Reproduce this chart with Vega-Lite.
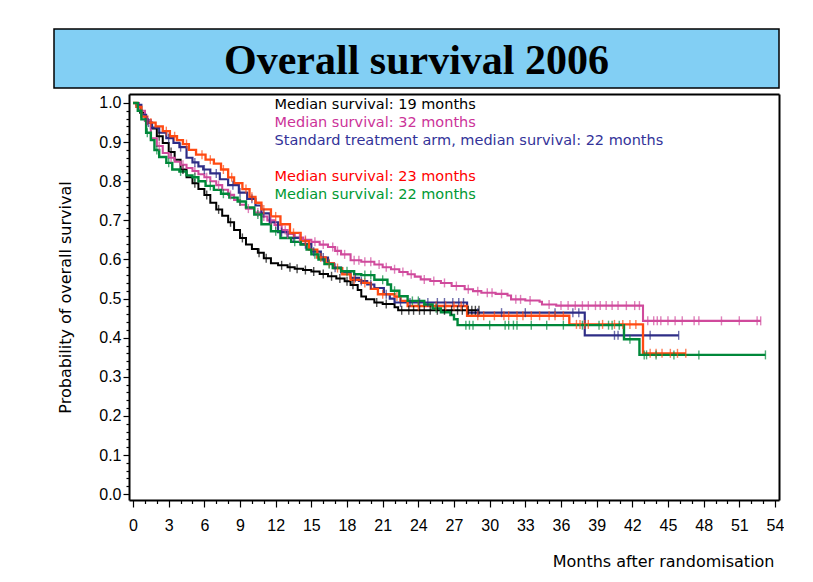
{
  "$schema": "https://vega.github.io/schema/vega-lite/v6.json",
  "padding": {"left": 53, "top": 28, "right": 0, "bottom": 0},
  "background": "white",
  "spacing": 5,
  "resolve": {"scale": {"color": "independent"}, "legend": {"color": "independent"}},
  "config": {
    "font": "Liberation Sans",
    "axis": {"domainColor": "#000", "tickColor": "#000", "labelColor": "#000", "titleColor": "#000", "grid": false}
  },
  "datasets": {
    "km": [
      {"g":"B","m":0,"s":1},{"g":"B","m":0.3,"s":0.99},{"g":"B","m":0.6,"s":0.975},{"g":"B","m":1.0,"s":0.955},{"g":"B","m":1.5,"s":0.935},{"g":"B","m":2.0,"s":0.915},{"g":"B","m":2.5,"s":0.898},{"g":"B","m":3.0,"s":0.875},{"g":"B","m":3.5,"s":0.855},{"g":"B","m":4.0,"s":0.83},{"g":"B","m":4.5,"s":0.81},{"g":"B","m":5.0,"s":0.795},{"g":"B","m":5.5,"s":0.78},{"g":"B","m":6.0,"s":0.765},{"g":"B","m":6.5,"s":0.745},{"g":"B","m":7.0,"s":0.728},{"g":"B","m":7.5,"s":0.712},{"g":"B","m":8.0,"s":0.695},{"g":"B","m":8.5,"s":0.675},{"g":"B","m":9.0,"s":0.655},{"g":"B","m":9.5,"s":0.638},{"g":"B","m":10.0,"s":0.627},{"g":"B","m":10.5,"s":0.617},{"g":"B","m":11.0,"s":0.603},{"g":"B","m":11.6,"s":0.59},{"g":"B","m":12.2,"s":0.585},{"g":"B","m":13.0,"s":0.58},{"g":"B","m":13.6,"s":0.576},{"g":"B","m":14.3,"s":0.573},{"g":"B","m":15.0,"s":0.569},{"g":"B","m":15.7,"s":0.563},{"g":"B","m":16.4,"s":0.557},{"g":"B","m":17.1,"s":0.551},{"g":"B","m":17.8,"s":0.544},{"g":"B","m":18.3,"s":0.535},{"g":"B","m":18.9,"s":0.522},{"g":"B","m":19.2,"s":0.505},{"g":"B","m":19.6,"s":0.498},{"g":"B","m":20.3,"s":0.49},{"g":"B","m":21.0,"s":0.486},{"g":"B","m":22.0,"s":0.478},{"g":"B","m":22.3,"s":0.47},{"g":"B","m":29.1,"s":0.47},

      {"g":"M","m":0,"s":1},{"g":"M","m":0.5,"s":0.98},{"g":"M","m":1.0,"s":0.955},{"g":"M","m":1.5,"s":0.91},{"g":"M","m":2.0,"s":0.89},{"g":"M","m":2.5,"s":0.872},{"g":"M","m":3.0,"s":0.86},{"g":"M","m":3.5,"s":0.85},{"g":"M","m":4.0,"s":0.842},{"g":"M","m":4.5,"s":0.834},{"g":"M","m":5.0,"s":0.826},{"g":"M","m":5.5,"s":0.818},{"g":"M","m":6.0,"s":0.81},{"g":"M","m":6.5,"s":0.8},{"g":"M","m":7.0,"s":0.79},{"g":"M","m":7.5,"s":0.778},{"g":"M","m":8.0,"s":0.765},{"g":"M","m":8.5,"s":0.752},{"g":"M","m":9.0,"s":0.74},{"g":"M","m":9.5,"s":0.73},{"g":"M","m":10.2,"s":0.72},{"g":"M","m":10.8,"s":0.71},{"g":"M","m":11.3,"s":0.7},{"g":"M","m":11.9,"s":0.688},{"g":"M","m":12.5,"s":0.675},{"g":"M","m":13.0,"s":0.665},{"g":"M","m":13.6,"s":0.656},{"g":"M","m":14.3,"s":0.65},{"g":"M","m":15.0,"s":0.645},{"g":"M","m":15.7,"s":0.638},{"g":"M","m":16.4,"s":0.632},{"g":"M","m":17.0,"s":0.622},{"g":"M","m":17.5,"s":0.613},{"g":"M","m":18.3,"s":0.598},{"g":"M","m":19.2,"s":0.594},{"g":"M","m":20.3,"s":0.587},{"g":"M","m":21.0,"s":0.58},{"g":"M","m":21.7,"s":0.575},{"g":"M","m":22.4,"s":0.568},{"g":"M","m":23.1,"s":0.562},{"g":"M","m":23.7,"s":0.556},{"g":"M","m":24.2,"s":0.549},{"g":"M","m":25.0,"s":0.545},{"g":"M","m":25.9,"s":0.54},{"g":"M","m":26.8,"s":0.532},{"g":"M","m":27.9,"s":0.524},{"g":"M","m":28.6,"s":0.519},{"g":"M","m":29.3,"s":0.515},{"g":"M","m":30.5,"s":0.512},{"g":"M","m":31.5,"s":0.508},{"g":"M","m":31.8,"s":0.498},{"g":"M","m":33.0,"s":0.495},{"g":"M","m":34.2,"s":0.492},{"g":"M","m":34.4,"s":0.485},{"g":"M","m":35.6,"s":0.482},{"g":"M","m":42.9,"s":0.443},{"g":"M","m":52.8,"s":0.443},

      {"g":"N","m":0,"s":1},{"g":"N","m":0.3,"s":0.995},{"g":"N","m":0.7,"s":0.97},{"g":"N","m":1.1,"s":0.95},{"g":"N","m":1.6,"s":0.937},{"g":"N","m":2.2,"s":0.924},{"g":"N","m":2.8,"s":0.91},{"g":"N","m":3.4,"s":0.898},{"g":"N","m":3.9,"s":0.887},{"g":"N","m":4.5,"s":0.86},{"g":"N","m":5.0,"s":0.848},{"g":"N","m":5.5,"s":0.838},{"g":"N","m":5.9,"s":0.83},{"g":"N","m":6.5,"s":0.82},{"g":"N","m":7.3,"s":0.805},{"g":"N","m":8.0,"s":0.79},{"g":"N","m":8.9,"s":0.771},{"g":"N","m":9.6,"s":0.755},{"g":"N","m":10.3,"s":0.738},{"g":"N","m":10.8,"s":0.718},{"g":"N","m":11.5,"s":0.695},{"g":"N","m":12.2,"s":0.67},{"g":"N","m":13.0,"s":0.655},{"g":"N","m":14.1,"s":0.639},{"g":"N","m":15.0,"s":0.62},{"g":"N","m":15.8,"s":0.605},{"g":"N","m":16.4,"s":0.59},{"g":"N","m":16.9,"s":0.579},{"g":"N","m":17.5,"s":0.567},{"g":"N","m":18.3,"s":0.553},{"g":"N","m":19.0,"s":0.545},{"g":"N","m":19.7,"s":0.536},{"g":"N","m":20.3,"s":0.527},{"g":"N","m":21.1,"s":0.511},{"g":"N","m":21.6,"s":0.5},{"g":"N","m":22.0,"s":0.49},{"g":"N","m":28.1,"s":0.464},{"g":"N","m":38.0,"s":0.406},{"g":"N","m":45.9,"s":0.406},

      {"g":"R","m":0,"s":1},{"g":"R","m":0.3,"s":0.99},{"g":"R","m":0.7,"s":0.965},{"g":"R","m":1.2,"s":0.95},{"g":"R","m":1.9,"s":0.94},{"g":"R","m":2.5,"s":0.928},{"g":"R","m":3.1,"s":0.915},{"g":"R","m":3.7,"s":0.905},{"g":"R","m":4.2,"s":0.895},{"g":"R","m":4.7,"s":0.88},{"g":"R","m":5.3,"s":0.868},{"g":"R","m":6.1,"s":0.855},{"g":"R","m":6.8,"s":0.845},{"g":"R","m":7.4,"s":0.83},{"g":"R","m":8.0,"s":0.81},{"g":"R","m":8.5,"s":0.795},{"g":"R","m":9.2,"s":0.78},{"g":"R","m":9.8,"s":0.76},{"g":"R","m":10.3,"s":0.745},{"g":"R","m":10.8,"s":0.728},{"g":"R","m":11.6,"s":0.71},{"g":"R","m":12.4,"s":0.69},{"g":"R","m":13.2,"s":0.668},{"g":"R","m":14.1,"s":0.647},{"g":"R","m":14.8,"s":0.625},{"g":"R","m":15.5,"s":0.605},{"g":"R","m":16.2,"s":0.59},{"g":"R","m":16.9,"s":0.578},{"g":"R","m":17.6,"s":0.562},{"g":"R","m":18.3,"s":0.548},{"g":"R","m":19.2,"s":0.54},{"g":"R","m":20.0,"s":0.525},{"g":"R","m":20.6,"s":0.511},{"g":"R","m":22.0,"s":0.505},{"g":"R","m":22.5,"s":0.494},{"g":"R","m":23.1,"s":0.481},{"g":"R","m":28.1,"s":0.456},{"g":"R","m":36.7,"s":0.434},{"g":"R","m":42.9,"s":0.36},{"g":"R","m":46.5,"s":0.36},

      {"g":"G","m":0,"s":1},{"g":"G","m":0.4,"s":0.98},{"g":"G","m":0.7,"s":0.958},{"g":"G","m":1.1,"s":0.924},{"g":"G","m":1.5,"s":0.905},{"g":"G","m":1.8,"s":0.88},{"g":"G","m":2.2,"s":0.862},{"g":"G","m":2.8,"s":0.847},{"g":"G","m":3.3,"s":0.83},{"g":"G","m":3.9,"s":0.825},{"g":"G","m":4.5,"s":0.815},{"g":"G","m":5.0,"s":0.81},{"g":"G","m":5.5,"s":0.8},{"g":"G","m":6.1,"s":0.788},{"g":"G","m":6.8,"s":0.778},{"g":"G","m":7.4,"s":0.768},{"g":"G","m":8.1,"s":0.758},{"g":"G","m":8.8,"s":0.748},{"g":"G","m":9.5,"s":0.733},{"g":"G","m":10.2,"s":0.715},{"g":"G","m":10.8,"s":0.69},{"g":"G","m":11.6,"s":0.672},{"g":"G","m":12.4,"s":0.655},{"g":"G","m":13.3,"s":0.645},{"g":"G","m":14.1,"s":0.638},{"g":"G","m":14.6,"s":0.625},{"g":"G","m":15.0,"s":0.613},{"g":"G","m":15.6,"s":0.6},{"g":"G","m":16.1,"s":0.588},{"g":"G","m":16.8,"s":0.578},{"g":"G","m":17.5,"s":0.57},{"g":"G","m":18.6,"s":0.562},{"g":"G","m":19.2,"s":0.56},{"g":"G","m":20.3,"s":0.548},{"g":"G","m":21.4,"s":0.536},{"g":"G","m":21.7,"s":0.52},{"g":"G","m":22.4,"s":0.506},{"g":"G","m":23.1,"s":0.494},{"g":"G","m":24.5,"s":0.485},{"g":"G","m":25.2,"s":0.475},{"g":"G","m":25.9,"s":0.465},{"g":"G","m":26.7,"s":0.458},{"g":"G","m":27.0,"s":0.447},{"g":"G","m":27.3,"s":0.432},{"g":"G","m":41.3,"s":0.396},{"g":"G","m":42.6,"s":0.356},{"g":"G","m":53.2,"s":0.356}
    ],
    "cens": [
      {"g":"B","m":1.2,"s":0.955},{"g":"B","m":2.2,"s":0.915},{"g":"B","m":3.2,"s":0.875},{"g":"B","m":4.2,"s":0.83},{"g":"B","m":5.2,"s":0.795},{"g":"B","m":6.2,"s":0.765},{"g":"B","m":7.2,"s":0.728},{"g":"B","m":8.2,"s":0.695},{"g":"B","m":9.2,"s":0.655},{"g":"B","m":10.6,"s":0.617},{"g":"B","m":11.2,"s":0.603},{"g":"B","m":12.5,"s":0.585},{"g":"B","m":13.2,"s":0.58},{"g":"B","m":13.8,"s":0.576},{"g":"B","m":14.5,"s":0.573},{"g":"B","m":15.2,"s":0.569},{"g":"B","m":16.0,"s":0.563},{"g":"B","m":16.7,"s":0.557},{"g":"B","m":17.4,"s":0.551},{"g":"B","m":18.0,"s":0.544},{"g":"B","m":18.5,"s":0.535},{"g":"B","m":20.5,"s":0.49},{"g":"B","m":21.3,"s":0.486},{"g":"B","m":22.6,"s":0.47},{"g":"B","m":23.2,"s":0.47},{"g":"B","m":23.6,"s":0.47},{"g":"B","m":24.1,"s":0.47},{"g":"B","m":24.5,"s":0.47},{"g":"B","m":25.0,"s":0.47},{"g":"B","m":25.6,"s":0.47},{"g":"B","m":26.2,"s":0.47},{"g":"B","m":26.8,"s":0.47},{"g":"B","m":27.3,"s":0.47},{"g":"B","m":27.7,"s":0.47},{"g":"B","m":28.2,"s":0.47},{"g":"B","m":28.5,"s":0.47},{"g":"B","m":28.8,"s":0.47},{"g":"B","m":29.1,"s":0.47},

      {"g":"M","m":1.2,"s":0.955},{"g":"M","m":2.2,"s":0.89},{"g":"M","m":3.2,"s":0.86},{"g":"M","m":4.2,"s":0.842},{"g":"M","m":5.2,"s":0.826},{"g":"M","m":6.2,"s":0.81},{"g":"M","m":7.2,"s":0.79},{"g":"M","m":8.2,"s":0.765},{"g":"M","m":9.7,"s":0.73},{"g":"M","m":10.5,"s":0.72},{"g":"M","m":11.0,"s":0.71},{"g":"M","m":11.6,"s":0.7},{"g":"M","m":12.0,"s":0.688},{"g":"M","m":12.8,"s":0.675},{"g":"M","m":13.0,"s":0.665},{"g":"M","m":14.0,"s":0.656},{"g":"M","m":14.5,"s":0.65},{"g":"M","m":15.3,"s":0.645},{"g":"M","m":16.0,"s":0.638},{"g":"M","m":16.8,"s":0.632},{"g":"M","m":17.2,"s":0.622},{"g":"M","m":17.8,"s":0.613},{"g":"M","m":18.6,"s":0.598},{"g":"M","m":19.0,"s":0.598},{"g":"M","m":19.5,"s":0.594},{"g":"M","m":20.0,"s":0.594},{"g":"M","m":20.7,"s":0.587},{"g":"M","m":21.3,"s":0.58},{"g":"M","m":22.0,"s":0.575},{"g":"M","m":22.7,"s":0.568},{"g":"M","m":23.4,"s":0.562},{"g":"M","m":24.5,"s":0.549},{"g":"M","m":25.3,"s":0.545},{"g":"M","m":26.2,"s":0.54},{"g":"M","m":27.2,"s":0.532},{"g":"M","m":28.2,"s":0.524},{"g":"M","m":29.0,"s":0.519},{"g":"M","m":29.8,"s":0.515},{"g":"M","m":30.2,"s":0.515},{"g":"M","m":31.0,"s":0.512},{"g":"M","m":32.2,"s":0.498},{"g":"M","m":32.6,"s":0.498},{"g":"M","m":33.4,"s":0.495},{"g":"M","m":35.0,"s":0.485},{"g":"M","m":36.0,"s":0.482},{"g":"M","m":36.6,"s":0.482},{"g":"M","m":37.2,"s":0.482},{"g":"M","m":37.8,"s":0.482},{"g":"M","m":38.3,"s":0.482},{"g":"M","m":38.9,"s":0.482},{"g":"M","m":39.3,"s":0.482},{"g":"M","m":39.8,"s":0.482},{"g":"M","m":40.3,"s":0.482},{"g":"M","m":40.8,"s":0.482},{"g":"M","m":41.5,"s":0.482},{"g":"M","m":42.2,"s":0.482},{"g":"M","m":42.6,"s":0.482},{"g":"M","m":43.3,"s":0.443},{"g":"M","m":43.8,"s":0.443},{"g":"M","m":44.1,"s":0.443},{"g":"M","m":44.4,"s":0.443},{"g":"M","m":45.0,"s":0.443},{"g":"M","m":45.6,"s":0.443},{"g":"M","m":46.2,"s":0.443},{"g":"M","m":47.2,"s":0.443},{"g":"M","m":47.6,"s":0.443},{"g":"M","m":49.5,"s":0.443},{"g":"M","m":51.0,"s":0.443},{"g":"M","m":52.5,"s":0.443},{"g":"M","m":52.8,"s":0.443},

      {"g":"N","m":1.3,"s":0.95},{"g":"N","m":3.0,"s":0.91},{"g":"N","m":4.0,"s":0.887},{"g":"N","m":5.2,"s":0.848},{"g":"N","m":6.0,"s":0.83},{"g":"N","m":7.0,"s":0.82},{"g":"N","m":8.4,"s":0.79},{"g":"N","m":9.0,"s":0.771},{"g":"N","m":10.0,"s":0.755},{"g":"N","m":11.0,"s":0.718},{"g":"N","m":12.5,"s":0.67},{"g":"N","m":13.5,"s":0.655},{"g":"N","m":14.5,"s":0.639},{"g":"N","m":15.2,"s":0.62},{"g":"N","m":16.0,"s":0.605},{"g":"N","m":17.0,"s":0.579},{"g":"N","m":18.7,"s":0.553},{"g":"N","m":19.2,"s":0.545},{"g":"N","m":20.0,"s":0.536},{"g":"N","m":21.3,"s":0.511},{"g":"N","m":22.5,"s":0.49},{"g":"N","m":23.3,"s":0.49},{"g":"N","m":24.1,"s":0.49},{"g":"N","m":24.8,"s":0.49},{"g":"N","m":25.6,"s":0.49},{"g":"N","m":26.2,"s":0.49},{"g":"N","m":26.9,"s":0.49},{"g":"N","m":27.4,"s":0.49},{"g":"N","m":27.8,"s":0.49},{"g":"N","m":29.0,"s":0.464},{"g":"N","m":31.0,"s":0.464},{"g":"N","m":33.0,"s":0.464},{"g":"N","m":35.5,"s":0.464},{"g":"N","m":37.0,"s":0.464},{"g":"N","m":37.5,"s":0.464},{"g":"N","m":40.5,"s":0.406},{"g":"N","m":40.8,"s":0.406},{"g":"N","m":43.5,"s":0.406},{"g":"N","m":45.9,"s":0.406},

      {"g":"R","m":1.5,"s":0.95},{"g":"R","m":2.8,"s":0.928},{"g":"R","m":3.5,"s":0.915},{"g":"R","m":4.5,"s":0.895},{"g":"R","m":5.8,"s":0.868},{"g":"R","m":6.5,"s":0.855},{"g":"R","m":7.6,"s":0.83},{"g":"R","m":8.3,"s":0.81},{"g":"R","m":9.5,"s":0.78},{"g":"R","m":10.0,"s":0.76},{"g":"R","m":11.0,"s":0.728},{"g":"R","m":12.0,"s":0.71},{"g":"R","m":13.5,"s":0.668},{"g":"R","m":14.5,"s":0.647},{"g":"R","m":15.8,"s":0.605},{"g":"R","m":16.5,"s":0.59},{"g":"R","m":17.2,"s":0.578},{"g":"R","m":18.6,"s":0.548},{"g":"R","m":19.5,"s":0.54},{"g":"R","m":21.0,"s":0.511},{"g":"R","m":22.2,"s":0.505},{"g":"R","m":24.0,"s":0.481},{"g":"R","m":25.5,"s":0.481},{"g":"R","m":26.3,"s":0.481},{"g":"R","m":27.0,"s":0.481},{"g":"R","m":27.6,"s":0.481},{"g":"R","m":29.0,"s":0.456},{"g":"R","m":29.5,"s":0.456},{"g":"R","m":30.4,"s":0.456},{"g":"R","m":31.2,"s":0.456},{"g":"R","m":31.6,"s":0.456},{"g":"R","m":32.3,"s":0.456},{"g":"R","m":32.8,"s":0.456},{"g":"R","m":33.5,"s":0.456},{"g":"R","m":34.2,"s":0.456},{"g":"R","m":35.0,"s":0.456},{"g":"R","m":35.5,"s":0.456},{"g":"R","m":36.2,"s":0.456},{"g":"R","m":37.3,"s":0.434},{"g":"R","m":37.6,"s":0.434},{"g":"R","m":38.0,"s":0.434},{"g":"R","m":38.3,"s":0.434},{"g":"R","m":39.5,"s":0.434},{"g":"R","m":40.5,"s":0.434},{"g":"R","m":41.2,"s":0.434},{"g":"R","m":41.8,"s":0.434},{"g":"R","m":42.3,"s":0.434},{"g":"R","m":43.5,"s":0.36},{"g":"R","m":44.0,"s":0.36},{"g":"R","m":44.5,"s":0.36},{"g":"R","m":45.2,"s":0.36},{"g":"R","m":45.8,"s":0.36},{"g":"R","m":46.5,"s":0.36},

      {"g":"G","m":1.2,"s":0.924},{"g":"G","m":2.0,"s":0.88},{"g":"G","m":3.0,"s":0.847},{"g":"G","m":4.0,"s":0.825},{"g":"G","m":5.2,"s":0.81},{"g":"G","m":6.5,"s":0.788},{"g":"G","m":7.6,"s":0.768},{"g":"G","m":9.0,"s":0.748},{"g":"G","m":10.5,"s":0.715},{"g":"G","m":12.0,"s":0.672},{"g":"G","m":13.6,"s":0.645},{"g":"G","m":15.3,"s":0.613},{"g":"G","m":16.5,"s":0.588},{"g":"G","m":18.0,"s":0.57},{"g":"G","m":19.5,"s":0.56},{"g":"G","m":20.0,"s":0.56},{"g":"G","m":21.0,"s":0.548},{"g":"G","m":22.0,"s":0.52},{"g":"G","m":23.5,"s":0.494},{"g":"G","m":24.0,"s":0.494},{"g":"G","m":25.5,"s":0.475},{"g":"G","m":28.0,"s":0.432},{"g":"G","m":28.3,"s":0.432},{"g":"G","m":28.6,"s":0.432},{"g":"G","m":30.0,"s":0.432},{"g":"G","m":31.3,"s":0.432},{"g":"G","m":31.6,"s":0.432},{"g":"G","m":32.0,"s":0.432},{"g":"G","m":32.3,"s":0.432},{"g":"G","m":33.5,"s":0.432},{"g":"G","m":34.8,"s":0.432},{"g":"G","m":36.2,"s":0.432},{"g":"G","m":37.8,"s":0.432},{"g":"G","m":39.2,"s":0.432},{"g":"G","m":40.0,"s":0.432},{"g":"G","m":40.3,"s":0.432},{"g":"G","m":40.9,"s":0.432},{"g":"G","m":41.8,"s":0.396},{"g":"G","m":43.0,"s":0.356},{"g":"G","m":43.2,"s":0.356},{"g":"G","m":44.0,"s":0.356},{"g":"G","m":45.5,"s":0.356},{"g":"G","m":47.6,"s":0.356},{"g":"G","m":53.2,"s":0.356}
    ]
  },
  "vconcat": [
    {
      "width": 725,
      "height": 59,
      "view": {"fill": "#82cff4", "stroke": "#000", "strokeWidth": 1.5},
      "data": {"values": [{"t": "Overall survival 2006"}]},
      "mark": {"type": "text", "font": "Liberation Serif", "fontWeight": "bold", "fontSize": 42, "color": "#000", "align": "center", "baseline": "middle", "dy": 2},
      "encoding": {"text": {"field": "t", "type": "nominal"}}
    },
    {
      "width": 725,
      "height": 406,
      "view": {"stroke": null},
      "resolve": {"axis": {"x": "independent", "y": "independent"}},
      "layer": [
        {
          "data": {"name": "km"},
          "mark": {"type": "line", "interpolate": "step-after"},
          "encoding": {
            "x": {
              "field": "m", "type": "quantitative",
              "scale": {"domain": [-0.34, 54.34], "range": [75, 725], "nice": false, "zero": false},
              "axis": {
                "orient": "bottom",
                "values": [0,1,2,3,4,5,6,7,8,9,10,11,12,13,14,15,16,17,18,19,20,21,22,23,24,25,26,27,28,29,30,31,32,33,34,35,36,37,38,39,40,41,42,43,44,45,46,47,48,49,50,51,52,53,54],
                "tickSize": {"condition": {"test": "datum.value % 3 === 0", "value": 7}, "value": 3.5},
                "tickWidth": 1.2, "domainWidth": 2,
                "labelExpr": "datum.value % 3 === 0 ? datum.label : ''",
                "labelOverlap": false, "labelFlush": false,
                "labelFontSize": 16, "labelPadding": 10,
                "title": "Months after randomisation", "titleFont": "DejaVu Sans", "titleFontSize": 16, "titleFontWeight": "normal",
                "titleX": 720, "titleY": 61, "titleAlign": "right", "titleBaseline": "middle"
              }
            },
            "y": {
              "field": "s", "type": "quantitative",
              "scale": {"domain": [-0.015, 1.023], "nice": false, "zero": false},
              "axis": {
                "orient": "left",
                "offset": -75,
                "values": [0,0.02,0.04,0.06,0.08,0.1,0.12,0.14,0.16,0.18,0.2,0.22,0.24,0.26,0.28,0.3,0.32,0.34,0.36,0.38,0.4,0.42,0.44,0.46,0.48,0.5,0.52,0.54,0.56,0.58,0.6,0.62,0.64,0.66,0.68,0.7,0.72,0.74,0.76,0.78,0.8,0.82,0.84,0.86,0.88,0.9,0.92,0.94,0.96,0.98,1.0],
                "tickSize": {"condition": {"test": "abs(datum.value * 10 - round(datum.value * 10)) < 0.001", "value": 6}, "value": 3},
                "tickWidth": 1.2, "domainWidth": 2,
                "labelExpr": "abs(datum.value * 10 - round(datum.value * 10)) < 0.001 ? format(datum.value, '.1f') : ''",
                "labelOverlap": false, "labelFlush": false,
                "labelFontSize": 16, "labelPadding": 2,
                "title": "Probability of overall survival", "titleFont": "DejaVu Sans", "titleFontSize": 16, "titleFontWeight": "normal",
                "titlePadding": 25
              }
            },
            "color": {
              "field": "g", "type": "nominal",
              "scale": {"domain": ["B","M","N","S","R","G"], "range": ["#000000","#d04a9c","#2e2d86","#ffffff","#ff4a12","#00883a"]},
              "legend": {
                "orient": "none", "legendX": 206, "legendY": 4, "title": null,
                "padding": 0, "symbolOpacity": 0, "symbolSize": 1, "symbolStrokeWidth": 0,
                "labelFont": "DejaVu Sans", "labelFontSize": 14.5, "labelLimit": 0, "labelOffset": 0, "rowPadding": 3,
                "labelExpr": "datum.value === 'B' ? 'Median survival: 19 months' : datum.value === 'M' ? 'Median survival: 32 months' : datum.value === 'N' ? 'Standard treatment arm, median survival: 22 months' : datum.value === 'R' ? 'Median survival: 23 months' : datum.value === 'G' ? 'Median survival: 22 months' : ' '",
                "encode": {"labels": {"update": {"fill": {"signal": "datum.value === 'B' ? '#000000' : datum.value === 'M' ? '#cc3399' : datum.value === 'N' ? '#333399' : datum.value === 'R' ? '#ff0000' : datum.value === 'G' ? '#009933' : '#ffffff'"}}}}
              }
            },
            "strokeWidth": {
              "field": "g", "type": "nominal",
              "scale": {"domain": ["B","M","N","S","R","G"], "range": [2, 2.4, 3.2, 1, 2.4, 2.4]},
              "legend": null
            }
          }
        },
        {
          "data": {"name": "cens"},
          "mark": {"type": "tick", "orient": "vertical", "size": 9, "thickness": 1.4},
          "encoding": {
            "x": {
              "field": "m", "type": "quantitative",
              "axis": {"orient": "top", "domain": true, "domainWidth": 2, "ticks": false, "labels": false, "title": null}
            },
            "y": {
              "field": "s", "type": "quantitative",
              "axis": {"orient": "right", "domain": true, "domainWidth": 2, "ticks": false, "labels": false, "title": null}
            },
            "color": {"field": "g", "type": "nominal"}
          }
        }
      ]
    }
  ]
}
